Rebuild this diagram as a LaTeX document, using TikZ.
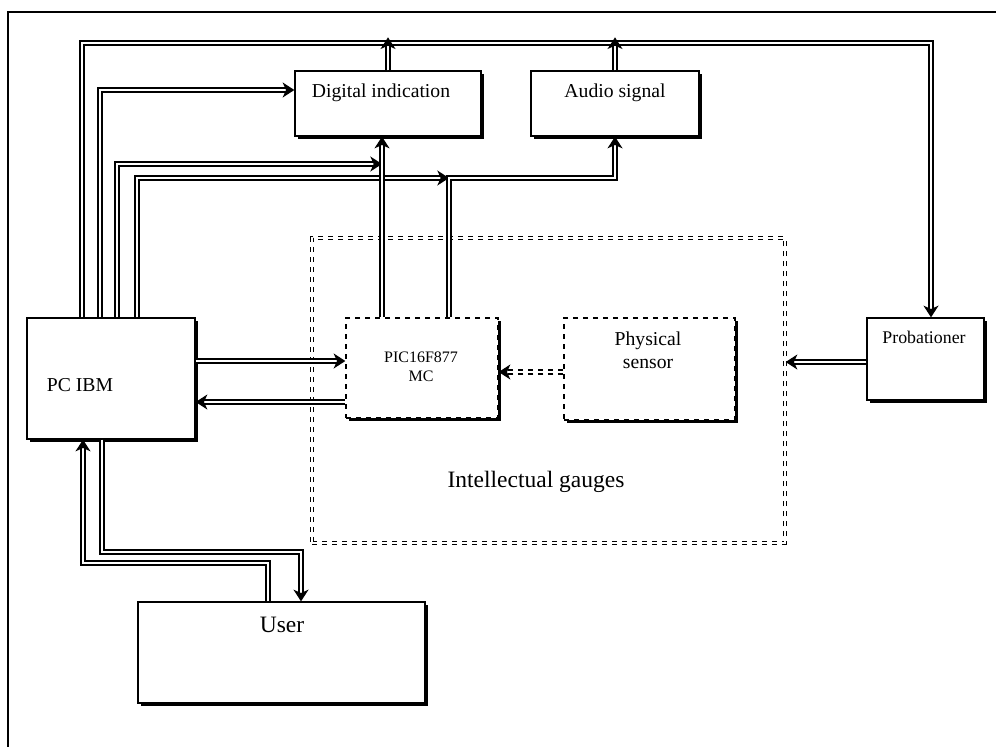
\documentclass[tikz,border=0pt]{standalone}
\usepackage{fontspec}
\setmainfont{Liberation Serif}
\usetikzlibrary{arrows.meta,positioning,fit,shadows}

\begin{document}
\begin{tikzpicture}[x=0.6pt,y=-0.6pt,
  box/.style={draw,line width=0.8pt,fill=white,inner sep=0pt,
    drop shadow={shadow xshift=2pt,shadow yshift=-2pt,fill=black,opacity=1}},
  dbox/.style={box,dashed},
  lbl/.style={inner sep=0pt,anchor=base,align=center,font=\fontsize{11.8}{13.8}\selectfont},
  link/.style={double,line width=0.9pt,double distance=1.4pt,
    -{Stealth[length=7pt,width=9pt,inset=2pt]}}]
\useasboundingbox (0,0) rectangle (996,747);
\draw[line width=0.8pt] (996,12) -- (8,12) -- (8,747);
% boxes
\node[box,fit={(27,318)(195,439)}] (pc) {};
\node[box,fit={(295,71)(481,136)}] (dig) {};
\node[box,fit={(531,71)(699,136)}] (aud) {};
\node[draw,double,dashed,line width=0.8pt,double distance=1.2pt,inner sep=0pt,
  fit={(312,238)(785,543)}] (gauges) {};
\node[dbox,fit={(346,318)(498,418)}] (pic) {};
\node[dbox,fit={(564,318)(735,420)}] (sens) {};
\node[box,fit={(867,318)(984,400)}] (prob) {};
\node[box,fit={(138,602)(425,703)}] (user) {};
% texts
\node[lbl] (pctxt) at (80,391) {PC IBM};
\node[lbl] (digtxt) at (381,97) {Digital indication};
\node[lbl] (audtxt) at (615,97) {Audio signal};
\node[lbl,font=\fontsize{9.6}{11.4}\selectfont] (pictxt) at (421,381) {PIC16F877\\MC};
\node[lbl] (senstxt) at (648,368) {Physical\\sensor};
\node[lbl,font=\fontsize{10.7}{12}\selectfont] (probtxt) at (924,343) {Probationer};
\node[lbl,font=\fontsize{14.1}{16}\selectfont] (gaugestxt) at (536,487) {Intellectual gauges};
\node[lbl,font=\fontsize{14.1}{16}\selectfont] (usertxt) at (282,632) {User};
% bend points
\coordinate (busl) at (82,43);
\coordinate (busr) at (931,43);
\coordinate (c2) at (100,90);
\coordinate (c3) at (117,164);
\coordinate (pd) at (382,164);
\coordinate (c4) at (137,178);
\coordinate (pa) at (449,178);
\coordinate (r1) at (0,361);
\coordinate (r2) at (0,402);
\coordinate (r3) at (0,372);
\coordinate (r4) at (0,362);
\coordinate (u1) at (83,563);
\coordinate (u2) at (301,552);
% connectors
\draw[link] (pc.north -| busl) -- (busl) -- (busr) -- (prob.north -| busr);
\draw[link] (dig.north) -- ++(0,-33);
\draw[link] (aud.north) -- ++(0,-33);
\draw[link] (pc.north -| c2) |- (dig.west |- c2);
\draw[link] (pc.north -| c3) |- (pd);
\draw[link] (pc.north -| c4) |- (pa);
\draw[link] (pic.north -| pd) -- (dig.south -| pd);
\draw[link] (pic.north -| pa) -- (pa) -| (aud.south);
\draw[link] (pc.east |- r1) -- (pic.west |- r1);
\draw[link] (pic.west |- r2) -- (pc.east |- r2);
\draw[link,dashed] (sens.west |- r3) -- (pic.east |- r3);
\draw[link] (prob.west |- r4) -- (gauges.east |- r4);
\draw[link] (user.north -| 268,0) |- (u1) -- (pc.south -| u1);
\draw[link] (pc.south -| 102,0) |- (u2) -- (user.north -| u2);
\end{tikzpicture}
\end{document}
